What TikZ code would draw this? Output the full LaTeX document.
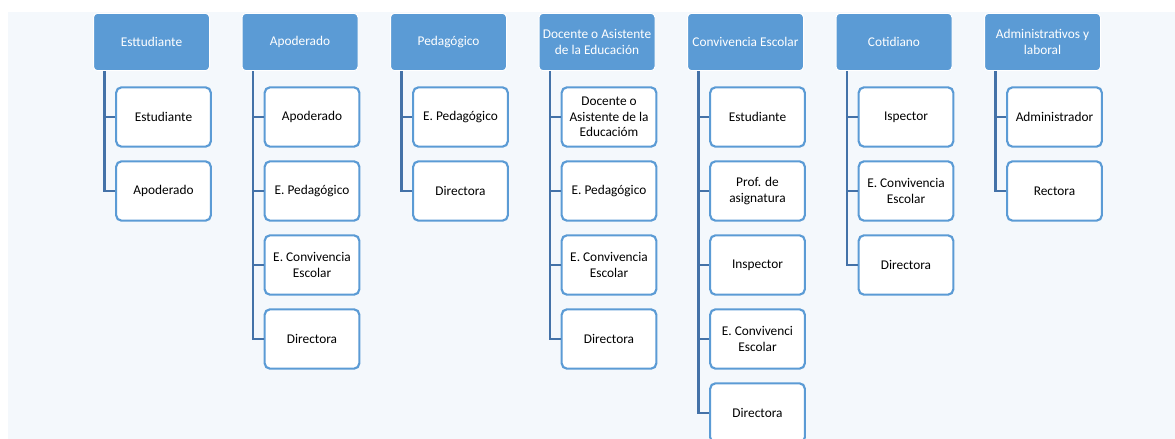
\documentclass[tikz,border=0pt]{standalone}
\usepackage{fontspec}
\setmainfont{Carlito}

\definecolor{headblue}{RGB}{91,155,213}
\definecolor{linkblue}{RGB}{68,114,168}
\definecolor{paneback}{RGB}{244,248,252}

\begin{document}
\begin{tikzpicture}[
  x=0.75pt, y=-0.75pt,
  font=\fontsize{10}{11.5}\selectfont,
  every node/.style={align=center},
  group/.style={draw=white,line width=0.75pt,rounded corners=3pt,fill=headblue,
    text=white,minimum width=87pt,minimum height=43pt,inner sep=2pt},
  member/.style={draw=headblue,line width=1.6pt,rounded corners=4pt,fill=white,
    text=black,minimum width=71pt,minimum height=44.5pt,inner sep=2pt},
  link/.style={draw=linkblue,line width=1.9pt}]
% Page and background pane
  \useasboundingbox (0,0) rectangle (1175,439);
  \fill[paneback] (8,12) rectangle (1175,439);

% Group headers
  \node[group] (estud)   at (151.5,42)  {Esttudiante};
  \node[group] (apod)    at (300,42)    {Apoderado};
  \node[group] (pedag)   at (448.5,42)  {Pedagógico};
  \node[group] (docente) at (597,42)    {Docente o Asistente\\de la Educación};
  \node[group] (conviv)  at (745.5,42)  {Convivencia Escolar};
  \node[group] (cotid)   at (894,42)    {Cotidiano};
  \node[group] (admin)   at (1042.5,42) {Administrativos y\\laboral};

% Members of each group
  \node[member] (estud1) at (163.5,117) {Estudiante};
  \node[member] (estud2) at (163.5,191) {Apoderado};

  \node[member] (apod1) at (312,117) {Apoderado};
  \node[member] (apod2) at (312,191) {E. Pedagógico};
  \node[member] (apod3) at (312,265) {E. Convivencia\\Escolar};
  \node[member] (apod4) at (312,339) {Directora};

  \node[member] (pedag1) at (460.5,117) {E. Pedagógico};
  \node[member] (pedag2) at (460.5,191) {Directora};

  \node[member] (docente1) at (609,117) {Docente o\\Asistente de la\\Educacióm};
  \node[member] (docente2) at (609,191) {E. Pedagógico};
  \node[member] (docente3) at (609,265) {E. Convivencia\\Escolar};
  \node[member] (docente4) at (609,339) {Directora};

  \node[member] (conviv1) at (757.5,117) {Estudiante};
  \node[member] (conviv2) at (757.5,191) {Prof. de\\asignatura};
  \node[member] (conviv3) at (757.5,265) {Inspector};
  \node[member] (conviv4) at (757.5,339) {E. Convivenci\\Escolar};
  \node[member] (conviv5) at (757.5,413) {Directora};

  \node[member] (cotid1) at (906,117) {Ispector};
  \node[member] (cotid2) at (906,191) {E. Convivencia\\Escolar};
  \node[member] (cotid3) at (906,265) {Directora};

  \node[member] (admin1) at (1054.5,117) {Administrador};
  \node[member] (admin2) at (1054.5,191) {Rectora};

% Connectors from header to members
  \draw[link] ([xshift=8.6pt]estud.south west)   |- (estud1.west);
  \draw[link] ([xshift=8.6pt]estud.south west)   |- (estud2.west);

  \draw[link] ([xshift=8.6pt]apod.south west)    |- (apod1.west);
  \draw[link] ([xshift=8.6pt]apod.south west)    |- (apod2.west);
  \draw[link] ([xshift=8.6pt]apod.south west)    |- (apod3.west);
  \draw[link] ([xshift=8.6pt]apod.south west)    |- (apod4.west);

  \draw[link] ([xshift=8.6pt]pedag.south west)   |- (pedag1.west);
  \draw[link] ([xshift=8.6pt]pedag.south west)   |- (pedag2.west);

  \draw[link] ([xshift=8.6pt]docente.south west) |- (docente1.west);
  \draw[link] ([xshift=8.6pt]docente.south west) |- (docente2.west);
  \draw[link] ([xshift=8.6pt]docente.south west) |- (docente3.west);
  \draw[link] ([xshift=8.6pt]docente.south west) |- (docente4.west);

  \draw[link] ([xshift=8.6pt]conviv.south west)  |- (conviv1.west);
  \draw[link] ([xshift=8.6pt]conviv.south west)  |- (conviv2.west);
  \draw[link] ([xshift=8.6pt]conviv.south west)  |- (conviv3.west);
  \draw[link] ([xshift=8.6pt]conviv.south west)  |- (conviv4.west);
  \draw[link] ([xshift=8.6pt]conviv.south west)  |- (conviv5.west);

  \draw[link] ([xshift=8.6pt]cotid.south west)   |- (cotid1.west);
  \draw[link] ([xshift=8.6pt]cotid.south west)   |- (cotid2.west);
  \draw[link] ([xshift=8.6pt]cotid.south west)   |- (cotid3.west);

  \draw[link] ([xshift=8.6pt]admin.south west)   |- (admin1.west);
  \draw[link] ([xshift=8.6pt]admin.south west)   |- (admin2.west);
\end{tikzpicture}
\end{document}
